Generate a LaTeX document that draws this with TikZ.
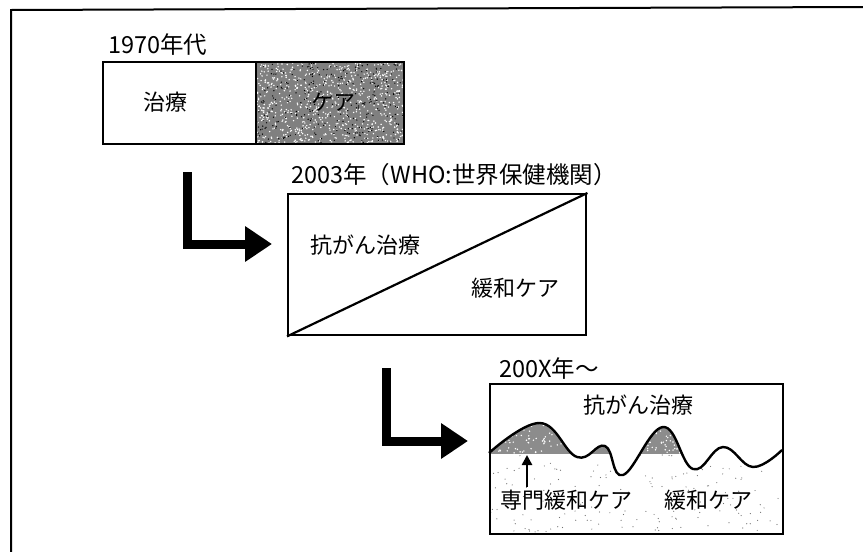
\documentclass[tikz,border=0pt]{standalone}
\usepackage{fontspec}
\setmainfont{Noto Sans CJK JP}
\usetikzlibrary{arrows.meta}
\begin{document}
\begin{tikzpicture}[x=1pt,y=-1pt,
  box/.style={draw, line width=2.4pt, inner sep=0pt, anchor=north west},
  lbl/.style={font=\fontsize{22}{26}\selectfont, inner sep=0pt},
  ttl/.style={font=\fontsize{23.5}{27}\selectfont, inner sep=0pt, anchor=west},
  bigarrow/.style={line width=9pt, -{Triangle[length=27pt,width=34pt]}},
  smallarrow/.style={line width=2.5pt, -{Triangle[length=10pt,width=10pt]}},
  wavepen/.style={line width=2.4pt, line join=round}]
\useasboundingbox (0,0) rectangle (863,552);
\pgfmathsetseed{12}

% outer frame
\draw[line width=2pt] (11,552) -- (11,10) -- (863,7);

% ---- 1970s box ----
\fill[black!50] (256,61) rectangle (403,143);
\begin{scope}
  \clip (256,61) rectangle (403,143);
  \foreach \i in {1,...,750}{
    \pgfmathsetmacro\rx{256+147*rnd}\pgfmathsetmacro\ry{61+82*rnd}
    \fill[white] (\rx,\ry) circle (0.8pt);}
  \foreach \i in {1,...,300}{
    \pgfmathsetmacro\rx{256+147*rnd}\pgfmathsetmacro\ry{61+82*rnd}
    \fill[black] (\rx,\ry) circle (0.7pt);}
\end{scope}
\node[box, minimum width=301pt, minimum height=82pt] (b1) at (102,61) {};
\draw[line width=2.4pt] (256,61) -- (256,143);
\node[ttl] (t1) at (108,45) {1970年代};
\node[lbl] (l1a) at (165,102) {治療};
\node[lbl] (l1b) at (333,102) {\itshape ケア};

% ---- arrow 1 ----
\coordinate (a1s) at (187,172);
\coordinate (a1e) at (272,244);
\draw[bigarrow] (a1s) |- (a1e);

% ---- 2003 box ----
\node[box, minimum width=298pt, minimum height=141pt] (b2) at (287,193) {};
\draw[line width=2.2pt] (b2.south west) -- (b2.north east);
\node[ttl] (t2) at (291,175) {2003年（WHO:世界保健機関）};
\node[lbl] (l2a) at (365,245) {抗がん治療};
\node[lbl] (l2b) at (515,288) {緩和ケア};

% ---- arrow 2 ----
\coordinate (a2s) at (386,368);
\coordinate (a2e) at (468,441);
\draw[bigarrow] (a2s) |- (a2e);

% ---- 200X box ----
\begin{scope}
  \clip (489,383) rectangle (690,453);
  \fill[black!45] plot[smooth,tension=0.7] coordinates {(489,453) (540,423) (577,457) (605,446) (623,475) (663,427) (693,469) (723,447) (753,467) (782,450)} -- (782,533) -- (489,533) -- cycle;
  \foreach \i in {1,...,250}{
    \pgfmathsetmacro\rx{489+200*rnd}\pgfmathsetmacro\ry{420+33*rnd}
    \fill[white] (\rx,\ry) circle (0.8pt);}
\end{scope}
\begin{scope}
  \clip plot[smooth,tension=0.7] coordinates {(489,453) (540,423) (577,457) (605,446) (623,475) (663,427) (693,469) (723,447) (753,467) (782,450)} -- (782,533) -- (489,533) -- cycle;
  \clip (489,453) rectangle (782,533);
  \foreach \i in {1,...,170}{
    \pgfmathsetmacro\rx{489+293*rnd}\pgfmathsetmacro\ry{453+80*rnd}
    \fill[black!55] (\rx,\ry) circle (0.6pt);}
\end{scope}
\draw[wavepen] plot[smooth,tension=0.7] coordinates {(489,453) (540,423) (577,457) (605,446) (623,475) (663,427) (693,469) (723,447) (753,467) (782,450)};
\node[box, minimum width=293pt, minimum height=150pt] (b3) at (489,383) {};
\node[ttl] (t3) at (499,369) {200X年～};
\node[lbl] (l3a) at (638,405) {抗がん治療};
\node[lbl] (l3b) at (566,500) {専門緩和ケア};
\node[lbl] (l3c) at (708,500) {緩和ケア};
\coordinate (pk) at (527,455);
\draw[smallarrow] (l3b.north -| pk) ++(0,-3) -- (pk);
\end{tikzpicture}
\end{document}
